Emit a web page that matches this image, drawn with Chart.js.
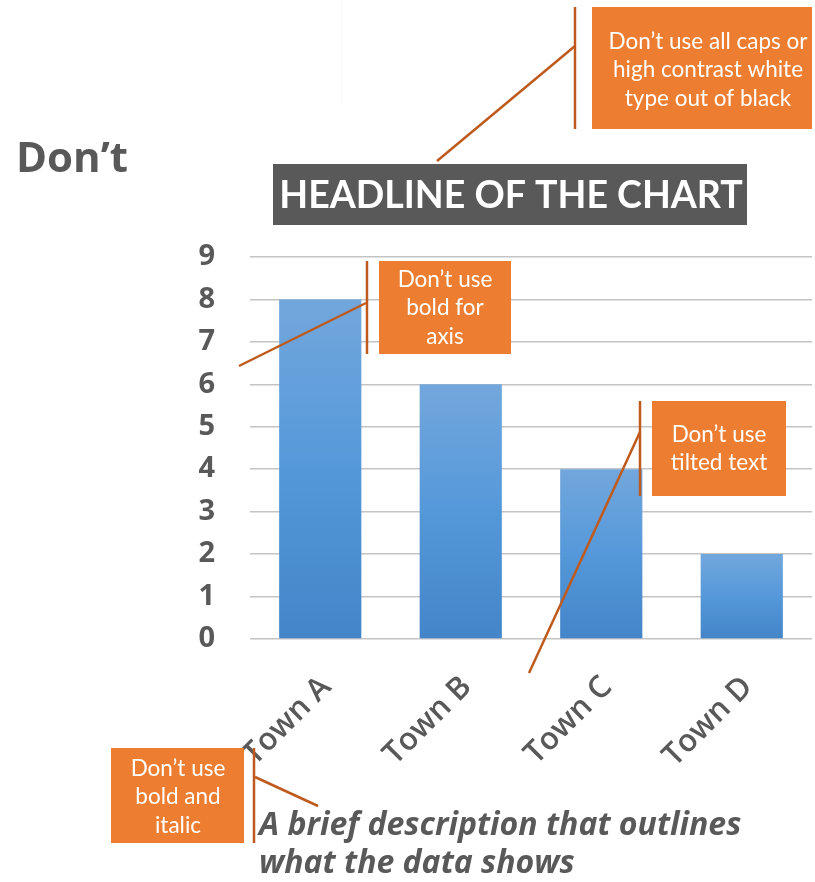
<!DOCTYPE html>
<html>
<head>
<meta charset="utf-8">
<script src="https://cdn.jsdelivr.net/npm/chart.js@4/dist/chart.umd.min.js"></script>
<style>
  html, body { margin: 0; padding: 0; background: #fff; }
  #wrap { width: 815px; height: 882px; }
</style>
</head>
<body>
<div id="wrap"><canvas id="barChart" width="815" height="882"></canvas></div>
<script>
// chart data
const categories = ['Town A', 'Town B', 'Town C', 'Town D'];
const values = [8, 6, 4, 2];
const yTickLabels = ['0', '1', '2', '3', '4', '5', '6', '7', '8', '9'];

const headline = 'HEADLINE OF THE CHART';
const sideNote = 'Don\u2019t';
const caption = ['A brief description that outlines', 'what the data shows'];

const ORANGE = '#ED7D31';
const BROWN = '#BF5A1E';
const GRAY = '#595959';

// orange call-outs: box, text lines and pointer lines
const callouts = [
  { box: [592, 7, 220, 122], cx: 708, ys: [42, 70, 99],
    text: ['Don\u2019t use all caps or', 'high contrast white', 'type out of black'],
    lines: [[575, 7, 575, 129], [575, 46, 437, 161]] },
  { box: [379, 261, 132, 93], cx: 445, ys: [280, 308, 337],
    text: ['Don\u2019t use', 'bold for', 'axis'],
    lines: [[367, 261, 367, 354], [366, 303, 239, 366]] },
  { box: [652, 401, 134, 95], cx: 719, ys: [435, 463],
    text: ['Don\u2019t use', 'tilted text'],
    lines: [[640, 401, 640, 496], [640, 432, 529, 673]] },
  { box: [111, 748, 133, 95], cx: 178, ys: [769, 797, 826],
    text: ['Don\u2019t use', 'bold and', 'italic'],
    lines: [[254, 748, 254, 843], [255, 777, 318, 806]] }
];

function barGradient(context) {
  const chart = context.chart;
  const yScale = chart.scales.y;
  const v = context.parsed ? context.parsed.y : undefined;
  if (!yScale || !Number.isFinite(v)) return '#5b9bd5';
  const top = yScale.getPixelForValue(v);
  const bottom = yScale.getPixelForValue(0);
  if (!Number.isFinite(top) || !Number.isFinite(bottom) || top === bottom) return '#5b9bd5';
  const g = chart.ctx.createLinearGradient(0, top, 0, bottom);
  g.addColorStop(0, '#72a7dc');
  g.addColorStop(0.5, '#5598da');
  g.addColorStop(1, '#4385c8');
  return g;
}

const overlay = {
  id: 'overlay',
  afterDraw(chart) {
    const c = chart.ctx;
    c.save();

    // faint guide artefact at the top
    c.strokeStyle = '#f7f7f7';
    c.lineWidth = 1;
    c.beginPath(); c.moveTo(341.5, 0); c.lineTo(341.5, 105); c.stroke();

    // "Don't"
    c.fillStyle = GRAY;
    c.font = 'bold 42px "Open Sans"';
    c.textAlign = 'left';
    c.textBaseline = 'alphabetic';
    c.fillText(sideNote, 16, 172);

    // headline box
    c.fillStyle = '#595959';
    c.fillRect(273, 164, 474, 61);
    c.fillStyle = '#ffffff';
    c.font = 'bold 37.5px Lato';
    c.textAlign = 'center';
    c.textBaseline = 'middle';
    c.fillText(headline, 511, 196);

    // call-outs
    callouts.forEach(o => {
      c.strokeStyle = BROWN;
      c.lineWidth = 2.5;
      o.lines.forEach(l => {
        c.beginPath(); c.moveTo(l[0], l[1]); c.lineTo(l[2], l[3]); c.stroke();
      });
      c.fillStyle = ORANGE;
      c.fillRect(o.box[0], o.box[1], o.box[2], o.box[3]);
      c.fillStyle = '#ffffff';
      c.font = '22.5px Lato';
      c.textAlign = 'center';
      c.textBaseline = 'middle';
      o.text.forEach((t, i) => c.fillText(t, o.cx, o.ys[i]));
    });

    // caption
    c.fillStyle = GRAY;
    c.font = 'italic bold 32px "Open Sans"';
    c.textAlign = 'left';
    c.textBaseline = 'alphabetic';
    c.fillText(caption[0], 259, 835);
    c.fillText(caption[1], 259, 873);

    c.restore();
  }
};

const ctx = document.getElementById('barChart');

new Chart(ctx, {
  type: 'bar',
  data: {
    labels: categories,
    datasets: [{
      data: values,
      backgroundColor: barGradient,
      borderWidth: 0,
      barPercentage: 0.585,
      categoryPercentage: 1
    }]
  },
  options: {
    responsive: false,
    animation: false,
    layout: { padding: { left: 0, top: 257, right: 3, bottom: 0 } },
    plugins: {
      legend: { display: false },
      tooltip: { enabled: false },
      title: { display: false }
    },
    scales: {
      x: {
        grid: { display: false },
        border: { display: false },
        ticks: {
          color: GRAY,
          font: { family: '"Open Sans"', size: 31, weight: 600 },
          minRotation: 45,
          maxRotation: 45,
          padding: 22,
          labelOffset: 6
        },
        afterFit(s) { s.height = 243; s.paddingLeft = 0; s.paddingRight = 0; }
      },
      y: {
        min: 0,
        max: 9,
        border: { display: false },
        grid: { color: '#c4c4c4', lineWidth: 1.5, drawTicks: false },
        ticks: {
          stepSize: 1,
          color: GRAY,
          padding: 35,
          font: { family: '"Open Sans"', size: 29, weight: 'bold' },
          callback: (v) => yTickLabels[v]
        },
        afterFit(s) { s.width = 250; s.paddingTop = 0; s.paddingBottom = 0; }
      }
    }
  },
  plugins: [overlay]
});
</script>
</body>
</html>
